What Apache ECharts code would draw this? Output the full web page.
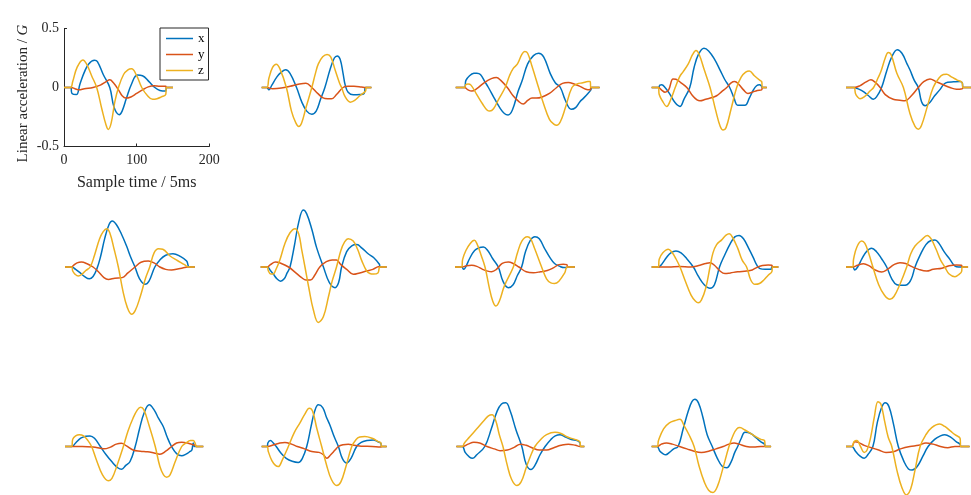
<!DOCTYPE html>
<html>
<head>
<meta charset="utf-8">
<script src="https://cdn.jsdelivr.net/npm/echarts@6/dist/echarts.min.js"></script>
<style>
  html, body { margin: 0; padding: 0; background: #fff; }
  #chart { width: 971px; height: 495px; }
</style>
</head>
<body>
<div id="chart"></div>
<script>
// Tri-axial acceleration recordings, 15 gestures. Each pair is [sample index, G].
const seriesNames = ['x', 'y', 'z'];
const seriesColors = ['#0072BD', '#D95319', '#EDB120'];
const xTicks = [0, 100, 200];
const yTicks = [-0.5, 0, 0.5];

const p1x = [[0,0],[9,0],[11,-0.05],[17,-0.06],[22,0.03],[28,0.13],[34,0.2],[42,0.23],[46,0.22],[54,0.11],[63,0],[69,-0.17],[76,-0.23],[80,-0.2],[86,-0.09],[93,0.03],[101,0.105],[108,0.1],[117,0.05],[125,0.0],[132,-0.025],[140,-0.03],[141,0],[150,0]];
const p1y = [[0,0],[10,0],[15,-0.01],[21,-0.02],[28,-0.01],[40,0],[50,0.02],[58,0.05],[63,0.065],[68,0.04],[75,-0.02],[80,-0.07],[85,-0.09],[92,-0.08],[100,-0.05],[108,-0.02],[116,0.005],[124,0.015],[132,0.01],[140,0.01],[141,0],[150,0]];
const p1z = [[0,0],[9,0],[12,0.05],[18,0.17],[26,0.234],[31,0.2],[38,0.1],[45,0],[52,-0.18],[58,-0.32],[61,-0.355],[65,-0.3],[70,-0.12],[75,0],[82,0.11],[88,0.15],[93,0.158],[100,0.1],[107,0],[115,-0.07],[122,-0.1],[128,-0.095],[134,-0.08],[140,-0.06],[141,0],[150,0]];

const p2x = [[3,0],[10,0],[13,-0.02],[17,0.02],[24,0.09],[30,0.13],[36,0.15],[42,0.12],[51,0],[58,-0.12],[65,-0.2],[72,-0.226],[78,-0.2],[84,-0.1],[90,0],[97,0.15],[103,0.25],[107,0.268],[111,0.24],[115,0.12],[118,0.02],[122,-0.04],[129,-0.062],[138,-0.06],[144,-0.05],[146,0],[154,0]];
const p2y = [[3,0],[10,0],[18,-0.01],[30,-0.005],[42,0.01],[55,0.03],[64,0.037],[72,0.0],[80,-0.05],[90,-0.094],[99,-0.096],[106,-0.06],[115,0],[122,0.01],[130,0.01],[140,0.005],[146,0],[154,0]];
const p2z = [[3,0],[10,0],[13,0.08],[18,0.17],[23,0.198],[28,0.16],[37,0],[44,-0.2],[50,-0.3],[54,-0.33],[58,-0.3],[64,-0.17],[72,0],[77,0.12],[81,0.2],[87,0.26],[93,0.28],[98,0.26],[104,0.15],[110,0.04],[113,0],[118,-0.08],[125,-0.124],[131,-0.11],[138,-0.07],[146,-0.03],[147,0],[154,0]];

const p3x = [[1,0],[13,0],[15,0.06],[20,0.1],[26,0.12],[30,0.121],[35,0.11],[41,0.05],[46,0],[54,-0.09],[62,-0.175],[68,-0.22],[73,-0.232],[79,-0.19],[87,-0.03],[92,0.05],[100,0.2],[108,0.27],[115,0.29],[122,0.26],[131,0.12],[138,0.04],[145,0],[152,-0.11],[160,-0.184],[166,-0.17],[172,-0.12],[177,-0.09],[183,-0.05],[187,-0.02],[188,0],[199,0]];
const p3y = [[1,0],[13,0],[18,-0.02],[23,-0.03],[30,-0.01],[40,0.04],[50,0.075],[57,0.085],[63,0.06],[72,0],[80,-0.07],[88,-0.12],[94,-0.14],[100,-0.11],[106,-0.09],[112,-0.09],[120,-0.08],[130,-0.05],[140,0],[148,0.035],[156,0.042],[164,0.03],[172,0.01],[180,-0.015],[186,-0.02],[187,0],[199,0]];
const p3z = [[1,0],[13,0],[15,0.025],[18,0.03],[22,0.02],[30,-0.06],[38,-0.14],[44,-0.19],[48,-0.2],[53,-0.18],[60,-0.1],[69,0],[75,0.1],[80,0.16],[86,0.2],[92,0.28],[96,0.305],[100,0.29],[106,0.18],[115,0],[122,-0.14],[130,-0.27],[136,-0.31],[140,-0.32],[145,-0.29],[152,-0.17],[161,0],[168,0.03],[176,0.04],[183,0.05],[186,0.05],[187,0],[199,0]];

const p4x = [[1.6,0],[10.8,0],[13,0.02],[15.4,0.023],[20,0.0],[27,-0.06],[34,-0.13],[40.6,-0.16],[46,-0.1],[54,0],[60,0.17],[66,0.28],[73.6,0.333],[80,0.31],[88,0.24],[95.6,0.15],[102,0.07],[109,0],[115,-0.09],[120,-0.15],[130,-0.15],[136,-0.09],[141.6,-0.02],[146,0.015],[150,0.023],[153,0.01],[154,0],[160,0]];
const p4y = [[1.6,0],[10.8,0],[15,-0.02],[20,-0.04],[25,-0.02],[31,0.073],[35,0.07],[42,0.04],[50,0],[58,-0.07],[64,-0.105],[68,-0.113],[76,-0.1],[85,-0.085],[91,-0.07],[98,-0.035],[105,0],[111,0.04],[116,0.05],[121,0.03],[128,-0.02],[134,-0.05],[140,-0.04],[147,-0.025],[153,-0.02],[154,0],[160,0]];
const p4z = [[1.6,0],[10.8,0],[12,-0.06],[16,-0.11],[22.3,-0.16],[28,-0.1],[34,0],[40,0.09],[45,0.135],[52,0.2],[58,0.28],[62.6,0.313],[67,0.28],[74,0.15],[82,0],[90,-0.2],[96,-0.33],[100,-0.36],[104,-0.34],[111,-0.18],[118.6,0],[125,0.09],[131,0.13],[136,0.14],[143,0.1],[150.7,0.06],[153,0.05],[154,0],[160,0]];

const p5x = [[0,0],[11,0],[16,-0.01],[24,-0.034],[31,-0.07],[37.6,-0.1],[42,-0.08],[49,0],[56,0.14],[63,0.26],[70.6,0.32],[77,0.29],[84,0.2],[88,0.15],[94,0.06],[99.5,0],[104,-0.12],[109,-0.155],[115,-0.13],[122,-0.07],[129,-0.02],[135,0.03],[140,0.045],[148,0.048],[157,0.05],[160,0.04],[161,0],[175,0]];
const p5y = [[0,0],[11,0],[19,0.014],[27,0.045],[34.4,0.065],[40,0.045],[47,0],[54,-0.06],[65,-0.1],[74,-0.108],[81,-0.113],[90,-0.07],[99.5,0],[107,0.05],[115.6,0.073],[124,0.05],[134,0.023],[143,0.0],[152,-0.015],[160,-0.01],[161,0],[175,0]];
const p5z = [[0,0],[11,0],[13,-0.05],[16,-0.08],[19.3,-0.096],[25,-0.08],[33,-0.03],[38,0],[44,0.08],[48,0.135],[54,0.25],[58.2,0.297],[62,0.28],[70,0.12],[79,0],[88,-0.22],[95,-0.33],[99.5,-0.353],[104,-0.32],[112,-0.16],[120,0],[128,0.08],[134,0.11],[138.5,0.113],[145,0.09],[152.5,0.065],[160,0.04],[161,0],[175,0]];

const p6x = [[1.4,0],[10.6,0],[16,-0.02],[22,-0.048],[28,-0.08],[34.9,-0.1],[40,-0.08],[45,-0.02],[50,0.08],[56,0.24],[62,0.36],[66.5,0.39],[72,0.36],[79,0.28],[86,0.18],[92,0.08],[97.7,0],[104,-0.1],[111.5,-0.147],[117,-0.12],[125,0],[132,0.06],[140,0.1],[150,0.113],[160,0.09],[168.8,0.05],[171,0.01],[172,0],[180,0]];
const p6y = [[1.4,0],[10.6,0],[13,0.014],[18,0.035],[24,0.042],[31,0.03],[40,0],[48,-0.045],[55,-0.09],[61,-0.105],[70,-0.095],[80,-0.09],[88,-0.05],[97.7,0],[106,0.04],[116,0.05],[124,0.035],[132,0],[140,-0.02],[148,-0.025],[158,-0.015],[166,-0.005],[171,0],[180,0]];
const p6z = [[1.4,0],[10.6,0],[12,-0.034],[15,-0.06],[19.7,-0.076],[25,-0.06],[30,-0.03],[36,0],[42,0.1],[49,0.24],[54,0.3],[58.7,0.325],[63,0.29],[69,0.15],[74.8,0],[81,-0.2],[87,-0.34],[93,-0.4],[98,-0.37],[105,-0.25],[112,-0.1],[118,0],[124,0.12],[130,0.155],[136,0.15],[146,0.093],[156,0.055],[166,0.02],[171,0],[180,0]];

const p7x = [[1.6,0],[10.8,0],[15,-0.03],[19,-0.06],[24,-0.1],[29,-0.12],[34,-0.1],[38,-0.05],[42,0],[48,0.18],[54,0.38],[60.3,0.483],[65,0.45],[72,0.32],[78.6,0.164],[88,0],[96,-0.13],[104,-0.175],[109,-0.13],[113,0],[120,0.13],[127,0.18],[134,0.19],[141,0.16],[150,0.11],[157,0.08],[165,0.023],[166,0],[175,0]];
const p7y = [[1.6,0],[10.8,0],[15,0.02],[22,0.042],[30,0.03],[40,0],[50,-0.05],[58,-0.09],[64,-0.11],[70,-0.11],[76,-0.07],[83,0],[92,0.045],[100,0.06],[106,0.06],[112,0.02],[120,-0.02],[129,-0.062],[138,-0.05],[147.5,-0.034],[156,-0.02],[165,0.005],[166,0],[175,0]];
const p7z = [[1.6,0],[10.8,0],[12,-0.03],[15.4,-0.06],[19,-0.06],[22,-0.03],[28,0.06],[35,0.2],[42,0.29],[48.9,0.325],[54,0.28],[58,0.15],[62.6,0],[68,-0.18],[74,-0.36],[81,-0.47],[88,-0.42],[95,-0.25],[100,-0.12],[106,0],[112,0.14],[117,0.21],[122,0.24],[129,0.22],[135,0.15],[141,0.05],[147.5,-0.034],[152,-0.055],[157,-0.06],[163,-0.05],[166,0],[175,0]];

const p8x = [[0,0],[9.2,0],[12,-0.02],[14.7,0],[20,0.07],[27,0.14],[34,0.165],[39,0.17],[45,0.14],[52,0.07],[59.6,0],[66,-0.12],[73.4,-0.175],[80,-0.15],[86,-0.07],[91.7,0],[97,0.13],[104,0.23],[110,0.257],[116,0.24],[123,0.16],[130.7,0.08],[137,0.03],[144.5,0.005],[150,-0.005],[153.7,-0.005],[155,0],[165,0]];
const p8y = [[0,0],[9.2,0],[16,0.01],[23,0.014],[30,0.005],[38,-0.02],[45,-0.035],[50.4,-0.04],[57,-0.02],[65,0.03],[73.4,0.042],[80,0.03],[88,0],[98,-0.04],[108,-0.048],[118,-0.04],[127,-0.03],[136,-0.005],[143,0.02],[149,0.023],[154,0.02],[155,0],[165,0]];
const p8z = [[0,0],[9.2,0],[10.5,0.065],[15,0.14],[21,0.2],[26.6,0.226],[30,0.2],[36,0.1],[41.3,0],[47,-0.17],[52,-0.29],[56.4,-0.33],[61,-0.29],[68,-0.16],[80.3,0],[86,0.12],[92,0.22],[99.5,0.257],[104,0.24],[110,0.15],[119.2,0],[126,-0.1],[132,-0.135],[137,-0.14],[143,-0.12],[151,-0.05],[154.6,0],[165,0]];

const p9x = [[1.6,0],[10.8,0],[15,0.02],[22,0.08],[28,0.12],[35,0.136],[42,0.12],[50,0.07],[59,0],[66,-0.08],[74,-0.15],[81.9,-0.18],[88,-0.15],[95,0],[102,0.1],[110,0.2],[116,0.255],[122,0.268],[128,0.24],[135,0.16],[141.5,0.08],[146,0.02],[150.7,-0.014],[158,-0.02],[166,-0.02],[167,0],[176,0]];
const p9y = [[1.6,0],[10.8,0],[25,0.0],[40,0.005],[55,0.0],[68,0.015],[76,0.03],[81.9,0.037],[88,0.015],[95,-0.03],[102.5,-0.056],[110,-0.05],[120,-0.04],[132.3,-0.034],[140,-0.025],[146,-0.005],[154,0.012],[162,0.017],[167,0.015],[168,0],[176,0]];
const p9z = [[1.6,0],[10.8,0],[12,0.065],[17,0.12],[24.5,0.15],[30,0.12],[35,0.07],[40.6,0],[48,-0.12],[56,-0.24],[62,-0.29],[65.8,-0.302],[70,-0.28],[76,-0.18],[81.9,0],[86,0.12],[91,0.19],[98,0.23],[104,0.27],[108.4,0.282],[113,0.25],[120,0.16],[126,0.06],[132.3,0],[138,-0.11],[143.8,-0.147],[150,-0.14],[156,-0.11],[162,-0.07],[167,-0.04],[168,0],[176,0]];

const p10x = [[0,0],[9.2,0],[12,-0.025],[16,0],[22,0.07],[28,0.13],[35.3,0.158],[42,0.13],[49,0.07],[56,0],[63,-0.1],[70,-0.15],[78,-0.155],[84,-0.15],[90,-0.1],[95,0],[102,0.1],[110,0.19],[117,0.225],[122.5,0.229],[128,0.2],[135,0.13],[143,0.065],[148,0.02],[152,0.003],[159,0.0],[160,0],[168,0]];
const p10y = [[0,0],[9.2,0],[16,0.015],[24,0.028],[32,0.01],[40,-0.025],[49,-0.042],[57,-0.02],[66,0.02],[74.3,0.037],[82,0.03],[90,0.005],[100,-0.02],[111,-0.034],[120,-0.02],[132,-0.01],[142,0.01],[152,0.017],[159,0.015],[160,0],[168,0]];
const p10z = [[0,0],[9.2,0],[10.5,0.07],[15,0.17],[21.6,0.22],[26,0.2],[31,0.12],[37,0],[45,-0.15],[53,-0.24],[60.5,-0.274],[66,-0.25],[74,-0.15],[83.5,0],[89,0.11],[95,0.178],[104,0.23],[111.9,0.268],[117,0.24],[124,0.15],[130,0.06],[136,0],[142,-0.06],[150,-0.082],[156,-0.06],[159,-0.04],[160,0],[168,0]];

const p11x = [[1.4,0],[10.6,0],[16,0.03],[23,0.07],[30,0.087],[35.8,0.09],[42,0.07],[50,0],[58,-0.07],[66,-0.13],[74,-0.18],[79.4,-0.192],[85,-0.16],[90.9,-0.127],[98,0],[104,0.15],[110,0.28],[117.4,0.353],[124,0.31],[130,0.24],[136.6,0.17],[142,0.08],[148,0],[155,-0.06],[162,-0.079],[168,-0.065],[173.6,-0.042],[176,-0.03],[178,0.03],[180,0],[191.7,0]];
const p11y = [[1.4,0],[10.6,0],[25,0.0],[40,-0.005],[50,-0.015],[55,-0.02],[64,-0.005],[72,0.02],[79,0.028],[86,0.005],[95,-0.03],[105,-0.04],[115,-0.045],[124,-0.055],[132,-0.065],[140,-0.04],[148,0.0],[155,0.03],[162,0.037],[170,0.03],[178,0.014],[181,0.01],[182,0],[191.7,0]];
const p11z = [[1.4,0],[10.6,0],[12,0.062],[16,0.09],[21,0.1],[27,0.09],[33,0.05],[38,0],[45,-0.12],[53,-0.24],[61,-0.29],[66,-0.27],[73,-0.16],[81.7,0],[88,0.13],[95,0.24],[101,0.31],[105.5,0.333],[110,0.31],[117,0.18],[125.6,0],[132,-0.17],[137,-0.24],[141.3,-0.26],[146,-0.24],[153,-0.13],[162,0],[168,0.03],[174,0.05],[178,0.05],[181,0.02],[182,0],[191.7,0]];

const p12x = [[3,0],[10.8,0],[11.5,0.03],[15,0.05],[19,0.03],[23,0],[30,-0.06],[36.8,-0.1],[45,-0.125],[53.4,-0.135],[59,-0.1],[65,0],[71,0.17],[76,0.3],[81,0.353],[87,0.33],[92,0.25],[97,0.18],[103,0.08],[108.6,0],[114,-0.1],[120,-0.14],[126,-0.1],[133.7,0],[140,0.035],[148,0.05],[156.6,0.056],[163,0.04],[167,0.028],[168,0],[175,0]];
const p12y = [[3,0],[10.8,0],[20,0.015],[28,0.03],[35,0.034],[44,0.02],[52,0.0],[62,-0.02],[72,-0.042],[82,-0.05],[88,-0.07],[92.7,-0.1],[98,-0.07],[104,-0.03],[108.6,0],[115,0.015],[122.4,0.02],[130,0.01],[140,0.003],[155,0.0],[167,-0.005],[168,0],[175,0]];
const p12z = [[3,0],[10.8,0],[12,-0.04],[17,-0.12],[22,-0.16],[26,-0.17],[31,-0.12],[39.7,0],[48,0.12],[55.7,0.2],[62,0.27],[68.6,0.325],[73,0.3],[79,0.15],[85.6,0],[92,-0.15],[99,-0.28],[106.2,-0.33],[112,-0.3],[119,-0.17],[127,0],[133,0.06],[138,0.08],[145,0.085],[155,0.07],[163.5,0.042],[167,0.03],[168,0],[175,0]];

const p13x = [[2,0],[10,0],[14,-0.05],[20,-0.09],[24,-0.1],[30,-0.07],[41,0],[50,0.15],[58,0.3],[64,0.36],[70,0.37],[76,0.3],[84,0.14],[92,0],[98,-0.15],[104.6,-0.195],[110,-0.16],[117,-0.07],[124,0],[132,0.06],[138,0.09],[144.5,0.1],[152,0.08],[160,0.06],[168,0.05],[172,0.03],[173,0],[178,0]];
const p13y = [[2,0],[10,0],[18,0.02],[26,0.035],[34,0.03],[44,0.0],[54,-0.02],[62,-0.035],[72,-0.03],[82,-0.005],[90,0.02],[98,0.01],[106,-0.01],[116,-0.03],[126,-0.03],[136,-0.01],[146,0.01],[156,0.02],[166,0.01],[172,0],[178,0]];
const p13z = [[2,0],[10,0],[13,0.03],[20,0.08],[30,0.15],[40,0.22],[46,0.26],[51,0.27],[56,0.22],[61,0.1],[66,0],[72,-0.16],[78,-0.28],[85,-0.33],[91,-0.3],[98,-0.18],[104,-0.08],[110,0],[118,0.06],[126,0.1],[137.6,0.12],[146,0.11],[155,0.08],[165,0.06],[172,0.04],[173,0],[178,0]];

const p14x = [[1.6,0],[9,0],[13,-0.04],[17,-0.06],[21,-0.07],[26,-0.05],[32,-0.02],[38,0],[45,0.15],[52,0.3],[57,0.38],[61,0.4],[66,0.37],[72,0.25],[78,0.1],[85,0],[92,-0.1],[99,-0.17],[105,-0.18],[111,-0.13],[116,-0.05],[120,0],[125,0.07],[130,0.12],[138,0.11],[146,0.07],[152,0.04],[157,0.02],[158,0],[166,0]];
const p14y = [[1.6,0],[9,0],[15,0.02],[22,0.03],[30,0.02],[40,0.0],[50,-0.02],[60,-0.04],[70,-0.05],[80,-0.04],[90,-0.02],[100,0.0],[108,0.02],[115,0.03],[122,0.02],[132,0.0],[142,-0.005],[152,0.0],[157,0],[166,0]];
const p14z = [[1.6,0],[9,0],[11,0.05],[18,0.15],[26,0.2],[34,0.22],[40.6,0.23],[46,0.18],[53,0.1],[60,0],[67,-0.17],[74,-0.3],[80,-0.37],[86,-0.39],[92,-0.34],[99,-0.2],[108,0],[114,0.1],[119,0.15],[123,0.16],[130,0.14],[138,0.11],[146,0.08],[152,0.06],[157,0.05],[158,0],[166,0]];

const p15x = [[0,0],[8,0],[13,-0.04],[19,-0.08],[25,-0.1],[30,-0.07],[37,0],[43,0.2],[49,0.33],[54,0.37],[59,0.34],[65,0.2],[72,0],[80,-0.13],[86,-0.19],[91,-0.2],[98,-0.17],[106,-0.08],[113,0],[122,0.06],[130,0.09],[136,0.1],[144,0.08],[152,0.04],[157,0.02],[158,0],[170,0]];
const p15y = [[0,0],[8,0],[12,0.04],[17,0.035],[25,0.01],[35,-0.01],[45,-0.03],[55,-0.05],[65,-0.045],[75,-0.02],[88,0.0],[100,0.01],[110,0.03],[120,0.02],[130,0.0],[140,-0.01],[150,0.0],[157,0.0],[158,0],[170,0]];
const p15z = [[0,0],[8,0],[11,0.04],[15,0.05],[20,0.0],[25,-0.05],[29,-0.03],[34,0.08],[39,0.25],[44,0.38],[48,0.36],[53,0.22],[58,0.08],[63,0],[70,-0.2],[77,-0.35],[83,-0.41],[89,-0.36],[95,-0.2],[102,0],[110,0.1],[118,0.16],[129,0.19],[136,0.17],[144,0.13],[150,0.1],[157,0.07],[158,0],[170,0]];

const panels = [
  [p1x, p1y, p1z], [p2x, p2y, p2z], [p3x, p3y, p3z], [p4x, p4y, p4z], [p5x, p5y, p5z],
  [p6x, p6y, p6z], [p7x, p7y, p7z], [p8x, p8y, p8z], [p9x, p9y, p9z], [p10x, p10y, p10z],
  [p11x, p11y, p11z], [p12x, p12y, p12z], [p13x, p13y, p13z], [p14x, p14y, p14z], [p15x, p15y, p15z]
];

// subplot layout: 3 rows x 5 columns, identical limits in every cell;
// the right column and bottom row run past the canvas edge and are cut off there
const COLS = 5;
const cellLeft0 = 64, cellStepX = 195.5, cellW = 145.3;
const cellTop0 = 28.5, cellStepY = 179.5, cellH = 118;
const serif = 'Liberation Serif, Times New Roman, serif';
const axisInk = '#262626';

const grid = [], xAxis = [], yAxis = [], series = [];
panels.forEach((trio, i) => {
  const r = Math.floor(i / COLS), c = i % COLS;
  grid.push({ left: cellLeft0 + c * cellStepX, top: cellTop0 + r * cellStepY,
              width: cellW, height: cellH, containLabel: false, outerBoundsMode: 'none' });
  const withAxes = i === 0;
  xAxis.push({
    type: 'value', gridIndex: i, min: xTicks[0], max: xTicks[xTicks.length - 1], interval: 100,
    show: withAxes,
    name: withAxes ? 'Sample time / 5ms' : '',
    nameLocation: 'middle', nameGap: 28,
    nameTextStyle: { fontFamily: serif, fontSize: 16, color: axisInk },
    axisLine: { show: true, onZero: false, lineStyle: { color: axisInk, width: 1 } },
    axisTick: { show: true, inside: true, length: 3, lineStyle: { color: axisInk } },
    axisLabel: { fontFamily: serif, fontSize: 14, color: axisInk, margin: 7 },
    splitLine: { show: false }
  });
  yAxis.push({
    type: 'value', gridIndex: i, min: yTicks[0], max: yTicks[yTicks.length - 1], interval: 0.5,
    show: withAxes,
    name: withAxes ? 'Linear acceleration / {g|G}' : '',
    nameLocation: 'middle', nameGap: 33, nameRotate: 90,
    nameTextStyle: { fontFamily: serif, fontSize: 15, color: axisInk, padding: [0, 12, 0, 0],
      rich: { g: { fontFamily: serif, fontSize: 15, fontStyle: 'italic', color: axisInk } } },
    axisLine: { show: true, onZero: false, lineStyle: { color: axisInk, width: 1 } },
    axisTick: { show: true, inside: true, length: 3, lineStyle: { color: axisInk } },
    axisLabel: { fontFamily: serif, fontSize: 14, color: axisInk, margin: 5,
                 formatter: v => (v === 0 ? '0' : String(v)) },
    splitLine: { show: false }
  });
  trio.forEach((pts, k) => {
    series.push({
      type: 'line', name: seriesNames[k], xAxisIndex: i, yAxisIndex: i,
      data: pts, smooth: 0.4,
      symbol: 'none', showSymbol: false,
      lineStyle: { color: seriesColors[k], width: 1.5 },
      itemStyle: { color: seriesColors[k] },
      z: 2 + k, silent: true
    });
  });
});

const chart = echarts.init(document.getElementById('chart'), null, { renderer: 'canvas' });
chart.setOption({
  backgroundColor: '#ffffff',
  animation: false,
  grid, xAxis, yAxis, series,
  legend: {
    data: seriesNames, orient: 'vertical', left: 160, top: 28,
    icon: 'rect', itemWidth: 27, itemHeight: 1.5, itemGap: 1,
    padding: [3, 4, 2, 6],
    borderColor: axisInk, borderWidth: 1, borderRadius: 0, backgroundColor: '#ffffff',
    textStyle: { fontFamily: serif, fontSize: 13, color: '#000', lineHeight: 15 },
    selectedMode: false
  }
});
</script>
</body>
</html>
